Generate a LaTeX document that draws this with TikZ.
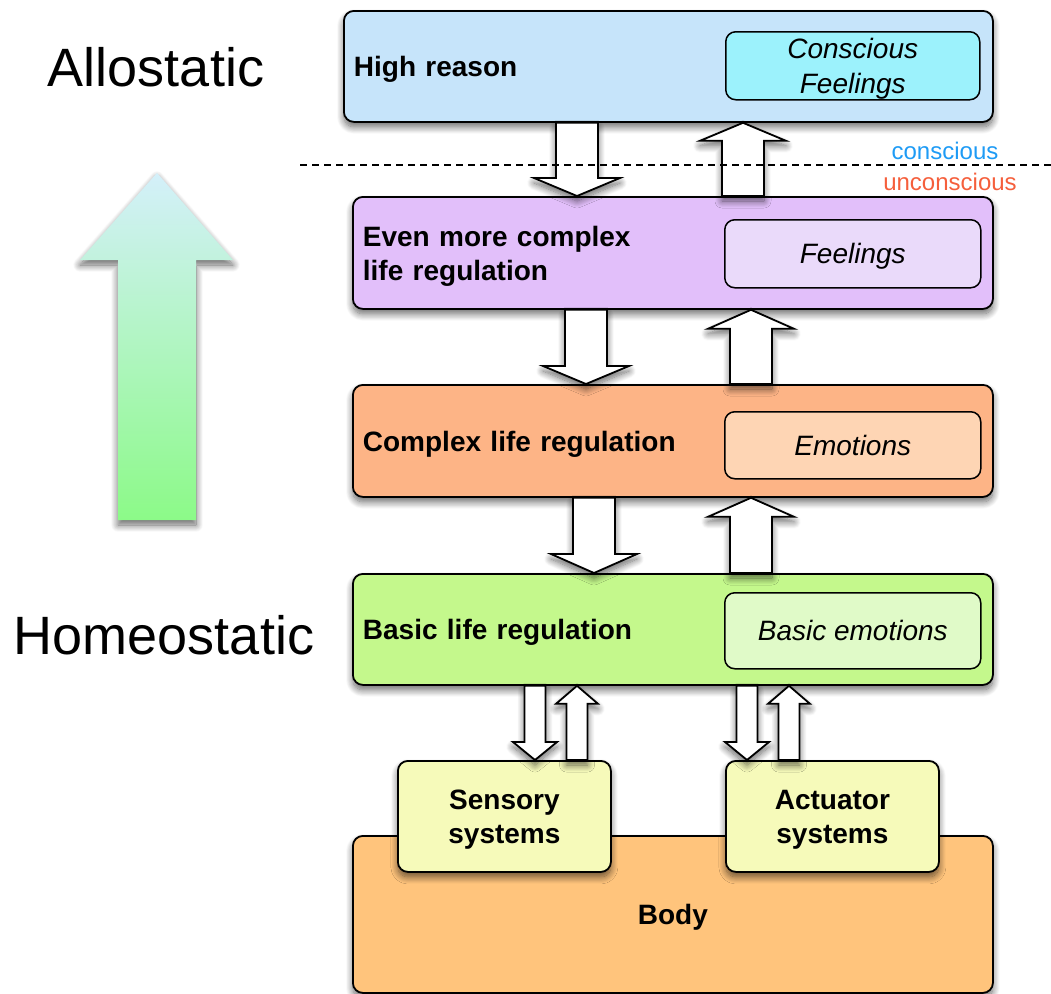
\documentclass[tikz,border=0pt]{standalone}
\usepackage{fontspec}
\setmainfont{Liberation Sans}
\usetikzlibrary{calc,shadows,shadows.blur}
\definecolor{hrc}{RGB}{198,228,250}
\definecolor{cfc}{RGB}{156,242,252}
\definecolor{emcc}{RGB}{226,191,250}
\definecolor{fec}{RGB}{234,218,250}
\definecolor{cxc}{RGB}{253,180,134}
\definecolor{emoc}{RGB}{254,213,180}
\definecolor{basc}{RGB}{196,248,140}
\definecolor{bec}{RGB}{224,250,200}
\definecolor{sysc}{RGB}{246,250,186}
\definecolor{bodyc}{RGB}{255,196,124}
\definecolor{consc}{RGB}{30,155,245}
\definecolor{uncc}{RGB}{245,95,60}
\definecolor{gtop}{RGB}{212,240,250}
\definecolor{gbot}{RGB}{140,250,136}
\begin{document}
\begin{tikzpicture}[x=1pt,y=-1pt,
  shadowed/.style={blur shadow={shadow xshift=0pt,shadow yshift=-5pt,shadow blur radius=7pt,shadow blur steps=12,shadow opacity=60}},
  box/.style={draw=black,line width=1.8pt,rounded corners=10pt,shadowed,inner sep=0pt,anchor=north west,text depth=0pt},
  mainbox/.style={box,align=left,inner xsep=10pt,font=\fontsize{28}{34}\selectfont\bfseries},
  sysbox/.style={box,align=center,font=\fontsize{28}{34}\selectfont\bfseries},
  innerbox/.style={draw=black,line width=1.5pt,rounded corners=10pt,inner sep=0pt,anchor=north west,align=center,text depth=0pt,font=\fontsize{28}{35}\selectfont\itshape},
  sidelabel/.style={font=\fontsize{54}{60}\selectfont},
  smalllabel/.style={font=\fontsize{24}{28}\selectfont},
  blockarrow/.style={draw=black,fill=white,line width=1.8pt,line join=miter,shadowed},
  bdown/.style n args={3}{blockarrow,to path={let \p1=(\tikztostart),\p2=(\tikztotarget) in
     (\x1-#1,\y1) -- (\x1+#1,\y1) -- (\x1+#1,\y2+#3) -- (\x1+#2,\y2+#3) -- (\x1,\y2) -- (\x1-#2,\y2+#3) -- (\x1-#1,\y2+#3) -- cycle}},
  bup/.style n args={3}{blockarrow,to path={let \p1=(\tikztostart),\p2=(\tikztotarget) in
     (\x1-#1,\y1) -- (\x1+#1,\y1) -- (\x1+#1,\y2-#3) -- (\x1+#2,\y2-#3) -- (\x1,\y2) -- (\x1-#2,\y2-#3) -- (\x1-#1,\y2-#3) -- cycle}},
]
\useasboundingbox (0,0) rectangle (1051,993);

% big gradient arrow
\path[shadowed,top color=gtop,bottom color=gbot] (157,173) -- (233,260) -- (196,260) -- (196,520) -- (118,520) -- (118,260) -- (80,260) -- cycle;
\node[sidelabel] (allo) at (156,67) {Allostatic};
\node[sidelabel] (homeo) at (164,635) {Homeostatic};

% main boxes
\node[mainbox,fill=hrc,minimum width=649pt,minimum height=111pt,text width=629pt] (hr) at (343,10) {High reason};
\node[mainbox,fill=emcc,minimum width=640pt,minimum height=112pt,text width=620pt,text depth=,text height=26.5pt] (emc) at (352,196) {Even more complex\\life regulation};
\node[mainbox,fill=cxc,minimum width=640pt,minimum height=112pt,text width=620pt] (cx) at (352,384) {Complex life regulation};
\node[mainbox,fill=basc,minimum width=640pt,minimum height=111pt,text width=620pt] (bas) at (352,573) {Basic life regulation};
\node[sysbox,fill=bodyc,minimum width=640pt,minimum height=157pt] (body) at (352,835) {Body};
\node[sysbox,fill=sysc,minimum width=213pt,minimum height=111pt] (sens) at (397,760) {Sensory\\systems};
\node[sysbox,fill=sysc,minimum width=213pt,minimum height=111pt] (act) at (725,760) {Actuator\\systems};

% inner boxes
\node[innerbox,fill=cfc,minimum width=254pt,minimum height=68pt] (cf) at (725,31) {Conscious\\Feelings};
\node[innerbox,fill=fec,minimum width=256pt,minimum height=68pt] (fe) at (724,219) {Feelings};
\node[innerbox,fill=emoc,minimum width=256pt,minimum height=67pt] (emo) at (724,411) {Emotions};
\node[innerbox,fill=bec,minimum width=256pt,minimum height=76pt] (be) at (724,592) {Basic emotions};

% block arrows between levels
\draw[bdown={21pt}{43pt}{18pt}] (577,0 |- hr.south) to (577,0 |- emc.north);
\draw[bup={21pt}{43pt}{18pt}] (743,0 |- emc.north) to (743,0 |- hr.south);
\draw[bdown={21pt}{43pt}{18pt}] (586,0 |- emc.south) to (586,0 |- cx.north);
\draw[bup={21pt}{43pt}{19pt}] (751,0 |- cx.north) to (751,0 |- emc.south);
\draw[bdown={21pt}{43pt}{19pt}] (594,0 |- cx.south) to (594,0 |- bas.north);
\draw[bup={21pt}{43pt}{19pt}] (751,0 |- bas.north) to (751,0 |- cx.south);

% block arrows to sensory / actuator systems
\draw[bdown={10.5pt}{22pt}{18pt}] (535,0 |- bas.south) to (535,0 |- sens.north);
\draw[bup={10.5pt}{21pt}{18pt}] (577,0 |- sens.north) to (577,0 |- bas.south);
\draw[bdown={10.5pt}{22pt}{18pt}] (747,0 |- bas.south) to (747,0 |- act.north);
\draw[bup={10.5pt}{21pt}{18pt}] (789,0 |- act.north) to (789,0 |- bas.south);

% conscious / unconscious divider
\coordinate (dl) at (300,165);
\coordinate (dr) at (1051,165);
\draw[line width=1.3pt,dash pattern=on 7pt off 5pt] (dl) -- (dr);
\node[smalllabel,text=consc] (cons) at (945,151) {conscious};
\node[smalllabel,text=uncc] (uncons) at (950,182) {unconscious};
\end{tikzpicture}
\end{document}
